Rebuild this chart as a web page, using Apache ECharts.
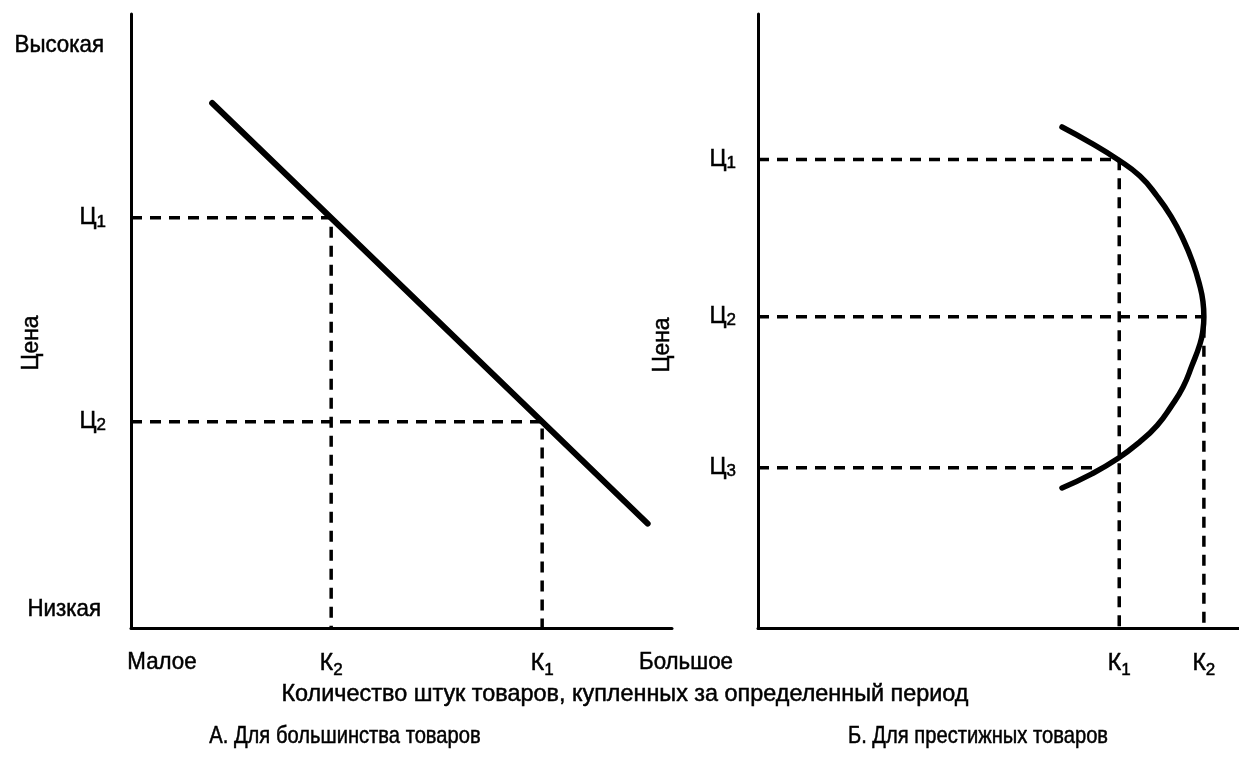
<!DOCTYPE html>
<html>
<head>
<meta charset="utf-8">
<script src="https://cdn.jsdelivr.net/npm/echarts@6/dist/echarts.min.js"></script>
<style>
  html, body { margin: 0; padding: 0; background: #fff; }
  #chart { width: 1239px; height: 757px; }
</style>
</head>
<body>
<div id="chart"></div>
<script>
// Panel A: ordinary demand curve (price falls, quantity rises)
const demandLine = [[15, 85.5], [95.5, 17]];
const leftPriceTicks = [66.8, 33.6];
const leftPriceNames = ['Ц1', 'Ц2'];
const leftQtyTicks = [37, 76];
const leftQtyNames = ['К2', 'К1'];
// guide pairs: price level -> quantity bought at that price
const leftGuides = [[66.8, 37], [33.6, 76]];

// Panel B: prestige goods, demand curve bends back
const prestigeCurve = [
  [63.2, 81.6], [69.0, 79.1], [74.8, 76.3], [79.4, 73.6], [83.0, 70.3],
  [85.9, 67.0], [88.4, 63.3], [90.4, 59.5], [91.9, 55.6], [92.5, 53.2],
  [92.7, 50.7], [92.5, 48.5], [91.9, 46.3], [90.2, 42.7], [88.4, 39.3],
  [85.9, 36.1], [83.0, 33.0], [79.2, 30.2], [74.8, 27.6], [69.4, 25.1],
  [63.2, 22.8]
];
const rightPriceTicks = [76.3, 50.7, 26.1];
const rightPriceNames = ['Ц1', 'Ц2', 'Ц3'];
const rightQtyTicks = [75.1, 92.7];
const rightQtyNames = ['К1', 'К2'];
// Ц3 only reaches the lower branch of the curve
const rightGuides = [[76.3, 75.1], [50.7, 92.7], [26.1, 71, false]];

// Text
const axisWordsY = ['Высокая', 'Низкая'];
const axisWordsX = ['Малое', 'Большое'];
const priceTitle = 'Цена';
const qtyTitle = 'Количество штук товаров, купленных за определенный период';
const panelTitles = ['А. Для большинства товаров', 'Б. Для престижных товаров'];

const FONT = "'Liberation Sans', Arial, sans-serif";
const INK = '#000';

function subLabel(names, ticks) {
  return function (v) {
    let best = 0;
    for (let i = 1; i < ticks.length; i++) {
      if (Math.abs(ticks[i] - v) < Math.abs(ticks[best] - v)) best = i;
    }
    const n = names[best];
    return n.charAt(0) + '{sub|' + n.slice(1) + '}';
  };
}

const labelInk = { textBorderColor: INK, textBorderWidth: 0.5 };

function xAxisFor(gridIndex, ticks, names) {
  return {
    type: 'value', gridIndex, min: 0, max: 100,
    axisLine: { show: true, onZero: false, lineStyle: { color: INK, width: 3 } },
    axisTick: { show: false },
    splitLine: { show: false },
    axisLabel: Object.assign({
      customValues: ticks,
      formatter: subLabel(names, ticks),
      color: INK, fontFamily: FONT, fontSize: 23, margin: 20,
      rich: { sub: Object.assign({ fontFamily: FONT, fontSize: 17, color: INK, padding: [14, 0, 0, 0] }, labelInk) }
    }, labelInk)
  };
}

function yAxisFor(gridIndex, ticks, names, margin) {
  return {
    type: 'value', gridIndex, min: 0, max: 100,
    axisLine: { show: true, onZero: false, lineStyle: { color: INK, width: 3 } },
    axisTick: { show: false },
    splitLine: { show: false },
    axisLabel: Object.assign({
      customValues: ticks,
      formatter: subLabel(names, ticks),
      color: INK, fontFamily: FONT, fontSize: 23, margin,
      rich: { sub: Object.assign({ fontFamily: FONT, fontSize: 17, color: INK, padding: [8, 0, 0, 0] }, labelInk) }
    }, labelInk)
  };
}

function guideSeries(guides, axisIndex) {
  return guides.map(function (g) {
    const price = g[0], qty = g[1], drop = g[2] !== false;
    const pts = [[0, price], [qty, price]];
    if (drop) pts.push([qty, 0]);
    return {
      type: 'line', xAxisIndex: axisIndex, yAxisIndex: axisIndex,
      data: pts, symbol: 'none', silent: true,
      lineStyle: { color: INK, width: 3.5, type: [11, 8] }, z: 1
    };
  });
}

function word(text, x, y, opts) {
  opts = opts || {};
  return {
    type: 'text', x, y,
    rotation: opts.rotation || 0,
    scaleX: opts.scaleX || 1,
    style: {
      text, font: (opts.size || 24) + 'px ' + FONT, fill: INK,
      stroke: INK, lineWidth: 0.5,
      align: opts.align || 'center', verticalAlign: 'middle'
    }
  };
}

const chart = echarts.init(document.getElementById('chart'), null, { renderer: 'canvas' });

const option = {
  animation: false,
  backgroundColor: '#fff',
  grid: [
    { left: 131, top: 14, width: 541, height: 614 },
    { left: 758, top: 14, width: 481, height: 614 }
  ],
  xAxis: [xAxisFor(0, leftQtyTicks, leftQtyNames), xAxisFor(1, rightQtyTicks, rightQtyNames)],
  yAxis: [yAxisFor(0, leftPriceTicks, leftPriceNames, 25), yAxisFor(1, rightPriceTicks, rightPriceNames, 22)],
  series: [
    ...guideSeries(leftGuides, 0),
    ...guideSeries(rightGuides, 1),
    {
      type: 'line', xAxisIndex: 0, yAxisIndex: 0, data: demandLine, symbol: 'none',
      lineStyle: { color: INK, width: 6, cap: 'round' }, z: 3
    },
    {
      type: 'line', xAxisIndex: 1, yAxisIndex: 1, data: prestigeCurve, symbol: 'none',
      smooth: 0.5, lineStyle: { color: INK, width: 5.5, cap: 'round' }, z: 3
    }
  ],
  graphic: [
    word(axisWordsY[0], 104, 45, { align: 'right', scaleX: 0.93 }),
    word(axisWordsY[1], 101, 609, { align: 'right', scaleX: 0.93 }),
    word(priceTitle, 31, 343, { rotation: Math.PI / 2, scaleX: 0.95 }),
    word(priceTitle, 662, 345, { rotation: Math.PI / 2, scaleX: 0.95 }),
    word(axisWordsX[0], 162, 662, { scaleX: 0.93 }),
    word(axisWordsX[1], 686, 662, { scaleX: 0.93 }),
    word(qtyTitle, 625, 694, { scaleX: 0.975 }),
    word(panelTitles[0], 345, 736, { scaleX: 0.84 }),
    word(panelTitles[1], 978, 736, { scaleX: 0.84 })
  ]
};

chart.setOption(option);
</script>
</body>
</html>
